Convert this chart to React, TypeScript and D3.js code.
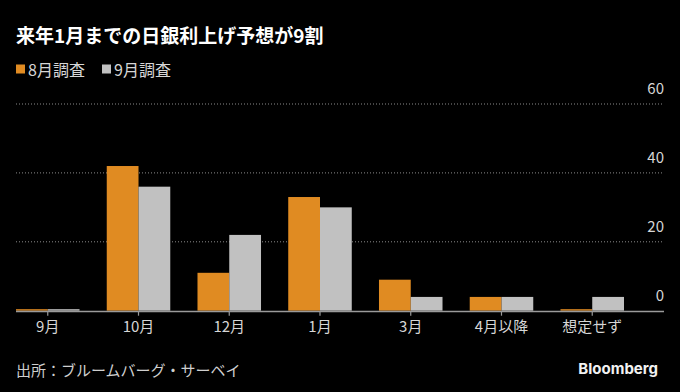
import React, { useEffect, useRef } from "react";
import * as d3 from "d3";

const categories = ["9月", "10月", "12月", "1月", "3月", "4月以降", "想定せず"];
const seriesNames = ["8月調査", "9月調査"];
const augValues = [0, 42, 11, 33, 9, 4, 0];
const sepValues = [0, 36, 22, 30, 4, 4, 4];
const yTicks = [0, 20, 40, 60];

const colors = ["#e08b22", "#c1c1c1"];
const jp = "'Noto Sans CJK JP', 'Noto Sans', sans-serif";

export default function App() {
  const ref = useRef<SVGSVGElement | null>(null);
  const width = 680;
  const height = 392;

  useEffect(() => {
    const svg = d3.select(ref.current);
    svg.selectAll("*").remove();

    svg.append("rect").attr("width", width).attr("height", height).attr("fill", "#000");

    // title
    svg.append("text")
      .attr("x", 16).attr("y", 34)
      .attr("dominant-baseline", "central")
      .attr("font-family", jp).attr("font-weight", 700).attr("font-size", 19)
      .attr("fill", "#fff")
      .text("来年1月までの日銀利上げ予想が9割");

    // legend
    const legendX = [16, 102];
    seriesNames.forEach((name, i) => {
      svg.append("rect")
        .attr("x", legendX[i]).attr("y", 64.5).attr("width", 9).attr("height", 9)
        .attr("fill", colors[i]);
      svg.append("text")
        .attr("x", legendX[i] + 12).attr("y", 69)
        .attr("dominant-baseline", "central")
        .attr("font-family", jp).attr("font-size", 16).attr("fill", "#d6d6d6")
        .text(name);
    });

    const left = 16, right = 664;
    const x = d3.scaleBand<string>()
      .domain(categories)
      .range([16, 624])
      .paddingInner(0.3)
      .paddingOuter(0);
    const xs = d3.scaleBand<string>()
      .domain(seriesNames)
      .range([0, x.bandwidth()]);
    const y = d3.scaleLinear().domain([0, 60]).range([310.7, 104]);

    // gridlines
    svg.append("g").selectAll("line")
      .data(yTicks.filter(d => d > 0))
      .enter().append("line")
      .attr("x1", left).attr("x2", right)
      .attr("y1", d => y(d)).attr("y2", d => y(d))
      .attr("stroke", "#8a8a8a").attr("stroke-width", 1)
      .attr("stroke-dasharray", "1,2");

    // y labels
    svg.append("g").selectAll("text")
      .data(yTicks)
      .enter().append("text")
      .attr("x", right).attr("y", d => y(d) - 10)
      .attr("text-anchor", "end")
      .attr("font-family", jp).attr("font-size", 15).attr("fill", "#d6d6d6")
      .text(d => d);

    // bars
    const series = [augValues, sepValues];
    series.forEach((vals, si) => {
      svg.append("g").selectAll("rect")
        .data(vals)
        .enter().append("rect")
        .attr("x", (d, i) => (x(categories[i]) as number) + (xs(seriesNames[si]) as number))
        .attr("width", xs.bandwidth())
        .attr("y", d => Math.min(y(d), y(0) - 1.5))
        .attr("height", d => Math.max(y(0) - y(d), 1.5))
        .attr("fill", colors[si]);
    });

    // baseline
    svg.append("line")
      .attr("x1", left).attr("x2", right)
      .attr("y1", y(0) + 0.7).attr("y2", y(0) + 0.7)
      .attr("stroke", "#9a9a9a").attr("stroke-width", 1.5);

    // x axis
    const xAxis = svg.append("g")
      .attr("transform", `translate(0,${y(0) + 1})`)
      .call(d3.axisBottom(x).tickSize(4).tickPadding(6));
    xAxis.select(".domain").remove();
    xAxis.selectAll("line").attr("stroke", "#9a9a9a").attr("stroke-width", 1.2);
    xAxis.selectAll("text")
      .attr("font-family", jp).attr("font-size", 15).attr("fill", "#d6d6d6");

    // footer
    svg.append("text")
      .attr("x", 16).attr("y", 369)
      .attr("dominant-baseline", "central")
      .attr("font-family", jp).attr("font-size", 15).attr("fill", "#cfcfcf")
      .text("出所：ブルームバーグ・サーベイ");
    svg.append("text")
      .attr("x", 658).attr("y", 368)
      .attr("dominant-baseline", "central")
      .attr("text-anchor", "end")
      .attr("font-family", "Inter, 'Noto Sans', sans-serif").attr("font-weight", 700)
      .attr("font-size", 15).attr("fill", "#f2f2f2")
      .text("Bloomberg");
  }, []);

  return (
    <div style={{ position: "absolute", left: 0, top: 0 }}>
      <svg ref={ref} width={width} height={height} style={{ display: "block" }} />
    </div>
  );
}
